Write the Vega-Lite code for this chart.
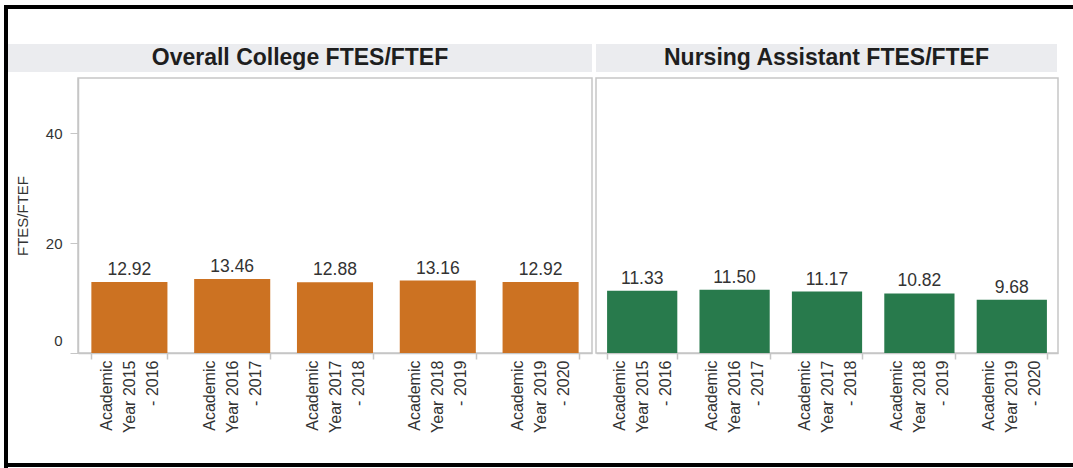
{
  "$schema": "https://vega.github.io/schema/vega-lite/v6.json",
  "padding": {"left": 4, "top": 5, "right": 0, "bottom": 0},
  "background": "white",
  "spacing": 0,
  "datasets": {
    "overall": [
      {"year": "Academic Year 2015 - 2016", "value": 12.92},
      {"year": "Academic Year 2016 - 2017", "value": 13.46},
      {"year": "Academic Year 2017 - 2018", "value": 12.88},
      {"year": "Academic Year 2018 - 2019", "value": 13.16},
      {"year": "Academic Year 2019 - 2020", "value": 12.92}
    ],
    "nursing": [
      {"year": "Academic Year 2015 - 2016", "value": 11.33},
      {"year": "Academic Year 2016 - 2017", "value": 11.50},
      {"year": "Academic Year 2017 - 2018", "value": 11.17},
      {"year": "Academic Year 2018 - 2019", "value": 10.82},
      {"year": "Academic Year 2019 - 2020", "value": 9.68}
    ]
  },
  "config": {
    "font": "Liberation Sans",
    "view": {"stroke": "#c6c6c6", "strokeWidth": 1.5},
    "axis": {
      "domainColor": "#c6c6c6",
      "tickColor": "#c6c6c6",
      "labelColor": "#333333",
      "titleColor": "#333333",
      "grid": false
    }
  },
  "hconcat": [
    {
      "width": 4,
      "height": 463,
      "view": {"fill": "black", "stroke": null},
      "data": {"values": []},
      "mark": "text",
      "encoding": {}
    },
    {
      "spacing": 35,
      "vconcat": [
        {
          "width": 1065,
          "height": 4,
          "view": {"fill": "black", "stroke": null},
          "data": {"values": []},
          "mark": "text",
          "encoding": {}
        },
        {
          "spacing": 5,
          "vconcat": [
            {
              "spacing": 4,
              "hconcat": [
                {
                  "width": 584,
                  "height": 28,
                  "view": {"fill": "#ebecef", "stroke": null},
                  "data": {"values": [{"title": "Overall College FTES/FTEF"}]},
                  "mark": {"type": "text", "fontSize": 23, "fontWeight": "bold", "color": "#1e1e1e", "baseline": "middle", "align": "center"},
                  "encoding": {"text": {"field": "title"}}
                },
                {
                  "width": 461,
                  "height": 28,
                  "view": {"fill": "#ebecef", "stroke": null},
                  "data": {"values": [{"title": "Nursing Assistant FTES/FTEF"}]},
                  "mark": {"type": "text", "fontSize": 23, "fontWeight": "bold", "color": "#1e1e1e", "baseline": "middle", "align": "center"},
                  "encoding": {"text": {"field": "title"}}
                }
              ]
            },
            {
              "spacing": 29,
              "vconcat": [
                {
                  "spacing": 4,
                  "bounds": "flush",
                  "hconcat": [
                    {
                      "width": 66,
                      "height": 275,
                      "view": {"stroke": null},
                      "data": {"values": []},
                      "mark": "text",
                      "encoding": {}
                    },
                    {
                      "width": 514,
                      "height": 275,
                      "data": {"name": "overall"},
                      "encoding": {
                        "x": {
                          "field": "year", "type": "nominal", "sort": null, "title": null,
                          "scale": {"paddingInner": 0.26, "paddingOuter": 0.13},
                          "axis": {
                            "labelAngle": -90, "labelAlign": "right", "labelBaseline": "middle",
                            "labelExpr": "datum.label ? ['Academic', 'Year ' + substring(datum.label, 14, 18), substring(datum.label, 19)] : ''",
                            "labelLineHeight": 23, "labelFontSize": 16, "labelPadding": 1, "labelOffset": -23,
                            "tickSize": 6, "tickBand": "extent", "tickWidth": 1.5, "domainWidth": 1.5
                          }
                        },
                        "y": {
                          "field": "value", "type": "quantitative", "title": "FTES/FTEF",
                          "scale": {"domain": [0, 50], "nice": false},
                          "axis": {
                            "values": [0, 20, 40], "tickSize": 8, "labelPadding": 8,
                            "labelFontSize": 15, "titleFontSize": 15, "titleFontWeight": "normal",
                            "titlePadding": 15, "domainWidth": 1.5,
                            "labelOffset": {"condition": {"test": "datum.value === 0", "value": -13}, "value": 0}
                          }
                        }
                      },
                      "layer": [
                        {"mark": {"type": "bar", "color": "#cc7222"}},
                        {
                          "mark": {"type": "text", "baseline": "alphabetic", "dy": -7, "fontSize": 17.5, "color": "#333333"},
                          "encoding": {"text": {"field": "value", "type": "quantitative", "format": ".2f"}}
                        }
                      ]
                    },
                    {
                      "width": 462,
                      "height": 275,
                      "data": {"name": "nursing"},
                      "encoding": {
                        "x": {
                          "field": "year", "type": "nominal", "sort": null, "title": null,
                          "scale": {"paddingInner": 0.24, "paddingOuter": 0.12},
                          "axis": {
                            "labelAngle": -90, "labelAlign": "right", "labelBaseline": "middle",
                            "labelExpr": "datum.label ? ['Academic', 'Year ' + substring(datum.label, 14, 18), substring(datum.label, 19)] : ''",
                            "labelLineHeight": 23, "labelFontSize": 16, "labelPadding": 1, "labelOffset": -23,
                            "tickSize": 6, "tickBand": "extent", "tickWidth": 1.5, "domainWidth": 1.5
                          }
                        },
                        "y": {
                          "field": "value", "type": "quantitative",
                          "scale": {"domain": [0, 50], "nice": false},
                          "axis": null
                        }
                      },
                      "layer": [
                        {"mark": {"type": "bar", "color": "#287a4c"}},
                        {
                          "mark": {"type": "text", "baseline": "alphabetic", "dy": -7, "fontSize": 17.5, "color": "#333333"},
                          "encoding": {"text": {"field": "value", "type": "quantitative", "format": ".2f"}}
                        }
                      ]
                    }
                  ]
                },
                {
                  "width": 1065,
                  "height": 4,
                  "view": {"fill": "black", "stroke": null},
                  "data": {"values": []},
                  "mark": "text",
                  "encoding": {}
                }
              ]
            }
          ]
        }
      ]
    }
  ]
}
